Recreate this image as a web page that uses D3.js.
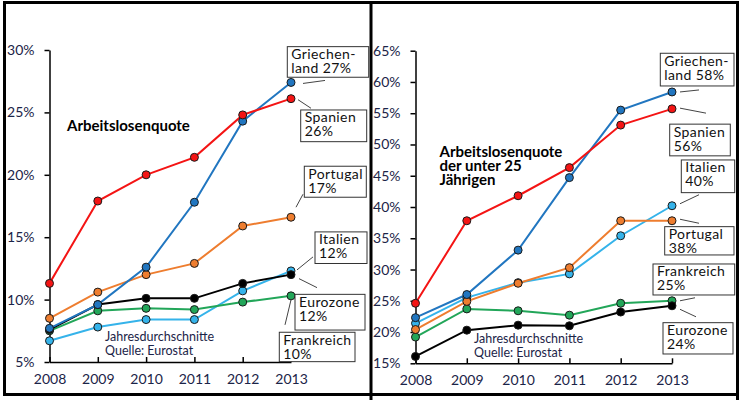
<!DOCTYPE html>
<html><head><meta charset="utf-8">
<script src="https://cdn.jsdelivr.net/npm/d3@7"></script>
<style>
html,body{margin:0;padding:0;background:#fff;}
svg{display:block;font-family:Lato,"Open Sans",sans-serif;}
</style></head>
<body>
<svg id="c" width="746" height="403"></svg>
<script>
// ---------- data ----------
const years = [2008, 2009, 2010, 2011, 2012, 2013];
const seriesNames = ["Italien", "Frankreich", "Portugal", "Eurozone", "Griechenland", "Spanien"];
const seriesColors = ["#35b3ea", "#22a659", "#ee7d2f", "#000000", "#2176c0", "#f41414"];

// Arbeitslosenquote (%)
const itLeft = [6.7, 7.8, 8.4, 8.4, 10.7, 12.3];
const frLeft = [7.5, 9.1, 9.3, 9.2, 9.8, 10.3];
const ptLeft = [8.5, 10.6, 12.0, 12.9, 15.9, 16.6];
const ezLeft = [7.6, 9.6, 10.1, 10.1, 11.3, 12.0];
const grLeft = [7.7, 9.6, 12.6, 17.8, 24.3, 27.4];
const esLeft = [11.3, 17.9, 20.0, 21.4, 24.8, 26.1];

// Arbeitslosenquote der unter 25 Jährigen (%)
const itRight = [21.4, 25.5, 27.9, 29.3, 35.4, 40.2];
const frRight = [19.2, 23.7, 23.4, 22.7, 24.6, 25.0];
const ptRight = [20.4, 24.9, 27.8, 30.3, 37.8, 37.8];
const ezRight = [16.1, 20.3, 21.1, 21.0, 23.2, 24.2];
const grRight = [22.3, 26.0, 33.1, 44.7, 55.5, 58.4];
const esRight = [24.6, 37.8, 41.8, 46.3, 53.1, 55.7];

const yTicksLeft = [5, 10, 15, 20, 25, 30];
const yTicksRight = [15, 20, 25, 30, 35, 40, 45, 50, 55, 60, 65];

const titleLeft = ["Arbeitslosenquote"];
const titleRight = ["Arbeitslosenquote", "der unter 25", "Jährigen"];
const noteLines = ["Jahresdurchschnitte", "Quelle: Eurostat"];

const labelsLeft = [["Italien", "12%"], ["Frankreich", "10%"], ["Portugal", "17%"], ["Eurozone", "12%"], ["Griechen-", "land 27%"], ["Spanien", "26%"]];
const labelsRight = [["Italien", "40%"], ["Frankreich", "25%"], ["Portugal", "38%"], ["Eurozone", "24%"], ["Griechen-", "land 58%"], ["Spanien", "56%"]];

// ---------- layout (pixel offsets of label boxes relative to the 2013 point) ----------
// [boxDx, boxDy, boxW, boxH, lineX1, lineY1, lineX2, lineY2]
const boxLayoutLeft = [
  [24, -39, 52, 31.6, 6, -1, 22, -14],
  [-11.7, 36.4, 75.7, 29.4, 0, 4, -6, 29],
  [13.3, -51, 62, 31, 5, -10, 12, -23],
  [4, 19.7, 70, 35.7, 8, 4, 26, 13],
  [-3.7, -35.8, 81.4, 30.6, 12, 1, 34, -2],
  [9.7, 11.3, 66, 31.7, 7, 1, 20, 9.6]
];
const boxLayoutRight = [
  [9.3, -45.8, 53.4, 32.7, 8, -2, 27, -11],
  [-19, -36.8, 81.7, 31, 8, 0, 23, -3],
  [-7.3, 5.9, 69.3, 28.3, 8, -1.5, 27, 2.5],
  [-9, 16.9, 70, 31.3, 8, 3.5, 24, 11],
  [-11.7, -38.7, 73.7, 32.7, 8, 0, 27, -2],
  [-2.3, 15.3, 60.6, 31.7, 8, -0.7, 34, 4.3]
];

const svg = d3.select("#c");
const textColor = "#1b2448";

function panel(cfg) {
  const x = d3.scalePoint().domain(years).range([cfg.x0, cfg.x1]);
  const y = d3.scaleLinear().domain(cfg.yDomain).range([cfg.yBottom, cfg.yTop]);
  const g = svg.append("g");

  // axes
  const ya = g.append("g").attr("transform", `translate(${cfg.x0},0)`)
    .call(d3.axisLeft(y).tickValues(cfg.yTicks).tickFormat(d => d + "%").tickSize(5).tickSizeOuter(0).tickPadding(10));
  const xa = g.append("g").attr("transform", `translate(0,${cfg.yBottom})`)
    .call(d3.axisBottom(x).tickSize(-5).tickSizeOuter(0).tickPadding(12));
  [ya, xa].forEach(a => {
    a.selectAll("path,line").attr("stroke", "#000").attr("stroke-width", 1.5);
    a.selectAll("text").attr("fill", textColor).attr("font-size", 14).attr("font-family", "Lato");
  });

  // title
  g.append("text").attr("x", cfg.titleX).attr("y", cfg.titleY)
    .attr("font-weight", "bold").attr("font-size", 15).attr("fill", "#000")
    .selectAll("tspan").data(cfg.title).join("tspan")
    .attr("x", cfg.titleX).attr("dy", (d, i) => i === 0 ? 0 : 14.3).text(d => d);

  // note
  g.append("text").attr("x", cfg.noteX).attr("y", cfg.noteY)
    .attr("font-size", 12.5).attr("fill", textColor)
    .selectAll("tspan").data(noteLines).join("tspan")
    .attr("x", cfg.noteX).attr("dy", (d, i) => i === 0 ? 0 : 14).text(d => d);

  const line = d3.line().x((d, i) => x(years[i])).y(d => y(d));
  const last = years.length - 1;

  // connectors
  cfg.series.forEach((vals, s) => {
    const L = cfg.boxes[s];
    const px = x(years[last]), py = y(vals[last]);
    g.append("line").attr("x1", px + L[4]).attr("y1", py + L[5]).attr("x2", px + L[6]).attr("y2", py + L[7])
      .attr("stroke", "#444").attr("stroke-width", 1);
  });

  // lines + markers
  cfg.series.forEach((vals, s) => {
    g.append("path").attr("d", line(vals)).attr("fill", "none")
      .attr("stroke", seriesColors[s]).attr("stroke-width", 2);
  });
  cfg.series.forEach((vals, s) => {
    g.selectAll(null).data(vals).join("circle")
      .attr("cx", (d, i) => x(years[i])).attr("cy", d => y(d)).attr("r", 4)
      .attr("fill", seriesColors[s]).attr("stroke", "#1a1a1a").attr("stroke-width", 1);
  });

  // label boxes
  cfg.series.forEach((vals, s) => {
    const L = cfg.boxes[s];
    const bx = x(years[last]) + L[0], by = y(vals[last]) + L[1];
    g.append("rect").attr("x", bx).attr("y", by).attr("width", L[2]).attr("height", L[3])
      .attr("fill", "#fff").attr("stroke", "#333").attr("stroke-width", 1);
    cfg.labels[s].forEach((t, i) => {
      g.append("text").attr("font-size", 14).attr("letter-spacing", 0.4).attr("fill", "#111")
        .attr("x", bx + 4).attr("y", by + 12.5 + i * 14).text(t);
    });
  });
}

panel({
  x0: 49.5, x1: 291, yBottom: 362, yTop: 50, yDomain: [5, 30], yTicks: yTicksLeft,
  series: [itLeft, frLeft, ptLeft, ezLeft, grLeft, esLeft],
  labels: labelsLeft, boxes: boxLayoutLeft,
  title: titleLeft, titleX: 67, titleY: 131,
  noteX: 105, noteY: 341
});
panel({
  x0: 415.5, x1: 672, yBottom: 363.3, yTop: 50.7, yDomain: [15, 65], yTicks: yTicksRight,
  series: [itRight, frRight, ptRight, ezRight, grRight, esRight],
  labels: labelsRight, boxes: boxLayoutRight,
  title: titleRight, titleX: 439.5, titleY: 156.5,
  noteX: 474, noteY: 343
});

// frame
const frame = svg.append("g").attr("stroke", "#000").attr("stroke-width", 3).attr("fill", "none");
frame.append("line").attr("x1", 3).attr("y1", 2.5).attr("x2", 739).attr("y2", 2.5);
frame.append("line").attr("x1", 4.5).attr("y1", 1).attr("x2", 4.5).attr("y2", 395);
frame.append("line").attr("x1", 371).attr("y1", 1).attr("x2", 371).attr("y2", 400);
frame.append("line").attr("x1", 737.5).attr("y1", 1).attr("x2", 737.5).attr("y2", 400);
frame.append("line").attr("x1", 3).attr("y1", 394.5).attr("x2", 739).attr("y2", 394.5);
</script>
</body></html>
